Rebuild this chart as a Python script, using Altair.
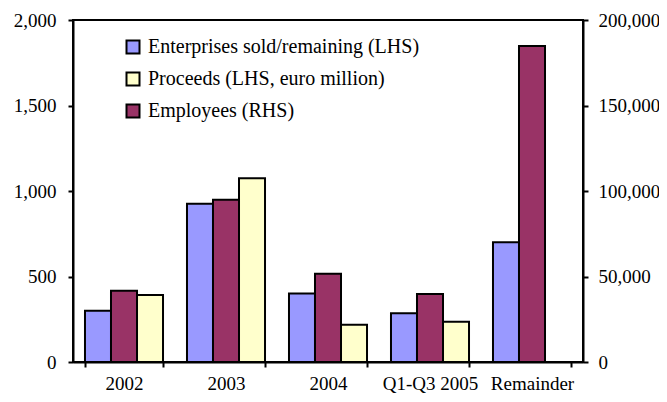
import altair as alt
import pandas as pd

categories = ["2002", "2003", "2004", "Q1-Q3 2005", "Remainder"]
enterprises = [300, 925, 400, 285, 700]
proceeds = [392, 1075, 218, 236, None]
employees = [41700, 94900, 51600, 39800, 184800]

S_ENT = "Enterprises sold/remaining (LHS)"
S_PRO = "Proceeds (LHS, euro million)"
S_EMP = "Employees (RHS)"

left_rows = []
for c, e, p in zip(categories, enterprises, proceeds):
    left_rows.append({"category": c, "series": S_ENT, "value": e})
    if p is not None:
        left_rows.append({"category": c, "series": S_PRO, "value": p})
left_df = pd.DataFrame(left_rows)
right_df = pd.DataFrame({"category": categories, "series": S_EMP, "value": employees})

FONT = "Liberation Serif"

color_scale = alt.Scale(domain=[S_ENT, S_PRO, S_EMP],
                        range=["#9999FF", "#FFFFCC", "#993366"])
offset_scale = alt.Scale(domain=[S_ENT, S_EMP, S_PRO], paddingInner=0, paddingOuter=0)

legend = alt.Legend(
    title=None, orient="none", legendX=50, legendY=17,
    symbolType="square", symbolSize=169, symbolStrokeColor="black",
    symbolStrokeWidth=2, symbolOpacity=1,
    labelFont=FONT, labelFontSize=20, labelColor="black", labelLimit=0,
    rowPadding=10, padding=0, labelOffset=5,
)

x_enc = alt.X(
    "category:N", sort=categories,
    scale=alt.Scale(paddingInner=0.235, paddingOuter=0.1175),
    axis=alt.Axis(title=None, labelAngle=0, tickBand="extent", tickSize=5,
                  labelPadding=7),
)

left = alt.Chart(left_df).mark_bar(stroke="black", strokeWidth=2).encode(
    x=x_enc,
    xOffset=alt.XOffset("series:N", scale=offset_scale),
    y=alt.Y("value:Q", scale=alt.Scale(domain=[0, 2000]),
            axis=alt.Axis(orient="left", title=None, values=[0, 500, 1000, 1500, 2000],
                          format=",d", tickSize=5, labelPadding=12)),
    color=alt.Color("series:N", scale=color_scale, legend=legend),
)

right = alt.Chart(right_df).mark_bar(stroke="black", strokeWidth=2).encode(
    x=x_enc,
    xOffset=alt.XOffset("series:N", scale=offset_scale),
    y=alt.Y("value:Q", scale=alt.Scale(domain=[0, 200000]),
            axis=alt.Axis(orient="right", title=None,
                          values=[0, 50000, 100000, 150000, 200000],
                          format=",d", tickSize=5, labelPadding=10)),
    color=alt.Color("series:N", scale=color_scale, legend=legend),
)

chart = (
    alt.layer(left, right)
    .resolve_scale(y="independent")
    .properties(width=510, height=342, autosize="none",
                padding={"left": 65, "top": 12, "right": 76, "bottom": 32})
    .configure_axis(domainColor="black", domainWidth=2, tickColor="black",
                    tickWidth=2, labelFont=FONT, labelFontSize=19,
                    labelColor="black", grid=False)
    .configure_view(stroke="black", strokeWidth=2)
)

chart.save("out.html", embed_options={"renderer": "svg", "actions": False})
